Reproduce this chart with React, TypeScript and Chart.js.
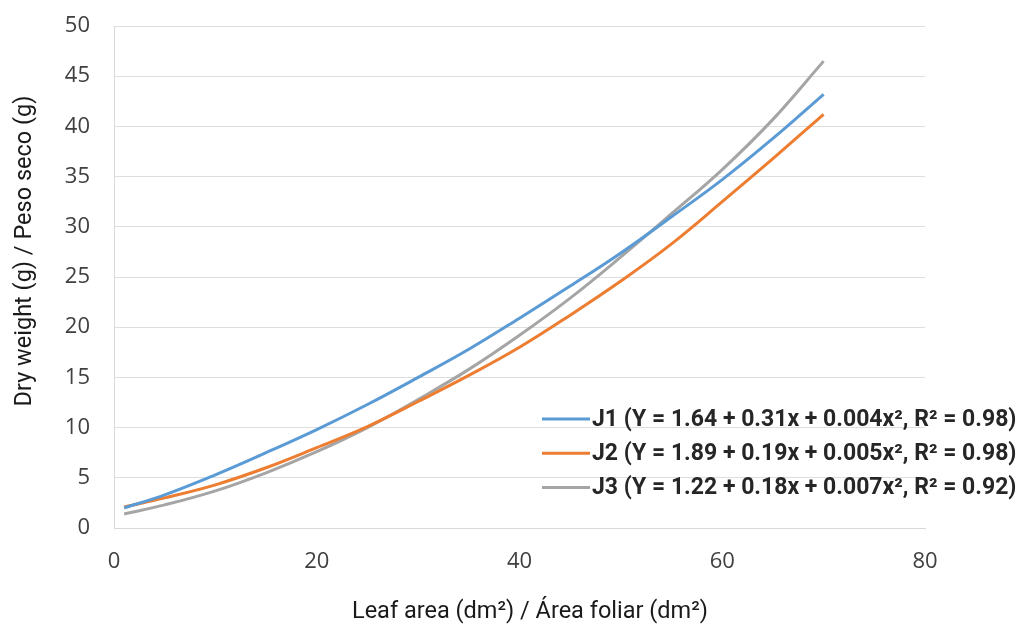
import React, { useEffect, useRef } from "react";
import { Chart, registerables } from "chart.js";

Chart.register(...registerables);

// Leaf area (dm²) sample positions along the fitted curves
const leafArea = [1, 5, 10, 15, 20, 25, 30, 35, 40, 45, 50, 55, 60, 65, 70];

// Dry weight (g) for each series
const j1Weight = [2.0, 3.3, 5.3, 7.5, 9.8, 12.3, 15.0, 17.8, 20.9, 24.1, 27.4, 31.0, 34.7, 38.8, 43.2];
const j2Weight = [2.1, 3.0, 4.3, 6.0, 8.0, 10.1, 12.6, 15.2, 18.0, 21.2, 24.6, 28.3, 32.5, 36.8, 41.2];
const j3Weight = [1.4, 2.3, 3.7, 5.5, 7.6, 10.0, 12.8, 15.8, 19.2, 22.9, 27.0, 31.3, 35.7, 40.7, 46.5];

const seriesLabels = [
  "J1 (Y = 1.64 + 0.31x + 0.004x², R² = 0.98)",
  "J2 (Y = 1.89 + 0.19x + 0.005x², R² = 0.98)",
  "J3 (Y = 1.22 + 0.18x + 0.007x², R² = 0.92)",
];
const seriesColors = ["#5B9BD5", "#ED7D31", "#A5A5A5"];

const xAxisTitle = "Leaf area (dm²) / Área foliar (dm²)";
const yAxisTitle = "Dry weight (g) / Peso seco (g)";

const xMin = 0;
const xMax = 80;
const xStep = 20;
const yMin = 0;
const yMax = 50;
const yStep = 5;

const TITLE_FONT = "Roboto, 'Liberation Sans', sans-serif";
const TICK_FONT = "'Open Sans', 'DejaVu Sans', sans-serif";

const annotations = {
  id: "annotations",
  afterDraw(chart: any) {
    const { ctx, chartArea } = chart;
    ctx.save();
    // axis titles
    ctx.fillStyle = "#1a1a1a";
    ctx.font = `23.5px ${TITLE_FONT}`;
    ctx.textAlign = "center";
    ctx.textBaseline = "alphabetic";
    ctx.fillText(xAxisTitle, chartArea.left + 416, chartArea.bottom + 90);
    ctx.save();
    ctx.translate(chartArea.left - 89, chartArea.top + 225);
    ctx.rotate(-Math.PI / 2);
    ctx.textBaseline = "middle";
    ctx.fillText(yAxisTitle, 0, 0);
    ctx.restore();

    // legend inside the plot
    const x0 = chartArea.left + 428;
    const y0 = chartArea.top + 393;
    const rowH = 34.3;
    chart.data.datasets.forEach((ds: any, i: number) => {
      const y = y0 + i * rowH;
      ctx.strokeStyle = ds.borderColor;
      ctx.lineWidth = 3;
      ctx.beginPath();
      ctx.moveTo(x0, y);
      ctx.lineTo(x0 + 48, y);
      ctx.stroke();
      ctx.font = `bold 23px ${TITLE_FONT}`;
      ctx.fillStyle = "#262626";
      ctx.textBaseline = "middle";
      ctx.textAlign = "left";
      ctx.fillText(ds.label, x0 + 50, y + 1);
    });
    ctx.restore();
  },
};

export default function App() {
  const canvasRef = useRef<HTMLCanvasElement | null>(null);

  useEffect(() => {
    document.body.style.margin = "0";
    const canvas = canvasRef.current;
    if (!canvas) return;
    const series = [j1Weight, j2Weight, j3Weight];
    const chart = new Chart(canvas, {
      type: "line",
      data: {
        datasets: series.map((vals, i) => ({
          label: seriesLabels[i],
          data: leafArea.map((x, j) => ({ x, y: vals[j] })),
          borderColor: seriesColors[i],
          backgroundColor: seriesColors[i],
          borderWidth: 3,
          pointRadius: 0,
          fill: false,
          tension: 0.4,
        })),
      },
      options: {
        animation: false,
        responsive: false,
        maintainAspectRatio: false,
        layout: { padding: { top: 26, right: 91, left: 0, bottom: 0 } },
        plugins: {
          legend: { display: false },
          tooltip: { enabled: false },
        },
        scales: {
          x: {
            type: "linear",
            min: xMin,
            max: xMax,
            afterFit: (s: any) => {
              s.height = 100;
              s.paddingLeft = 0;
              s.paddingRight = 0;
            },
            ticks: {
              stepSize: xStep,
              padding: 21,
              color: "#404040",
              font: { family: TICK_FONT, size: 22 },
            },
            grid: { display: false, drawTicks: false },
            border: { display: true, color: "#d9d9d9", width: 1 },
            title: { display: false },
          },
          y: {
            type: "linear",
            min: yMin,
            max: yMax,
            afterFit: (s: any) => {
              s.width = 114;
              s.paddingTop = 0;
              s.paddingBottom = 0;
            },
            ticks: {
              stepSize: yStep,
              padding: 24,
              color: "#404040",
              font: { family: TICK_FONT, size: 22 },
            },
            grid: { color: "#dedede", lineWidth: 1, drawTicks: false },
            border: { display: true, color: "#d9d9d9", width: 1 },
            title: { display: false },
          },
        },
      },
      plugins: [annotations],
    });
    return () => chart.destroy();
  }, []);

  return (
    <div style={{ width: 1016, height: 628, background: "#ffffff" }}>
      <canvas ref={canvasRef} width={1016} height={628} style={{ display: "block" }} />
    </div>
  );
}
